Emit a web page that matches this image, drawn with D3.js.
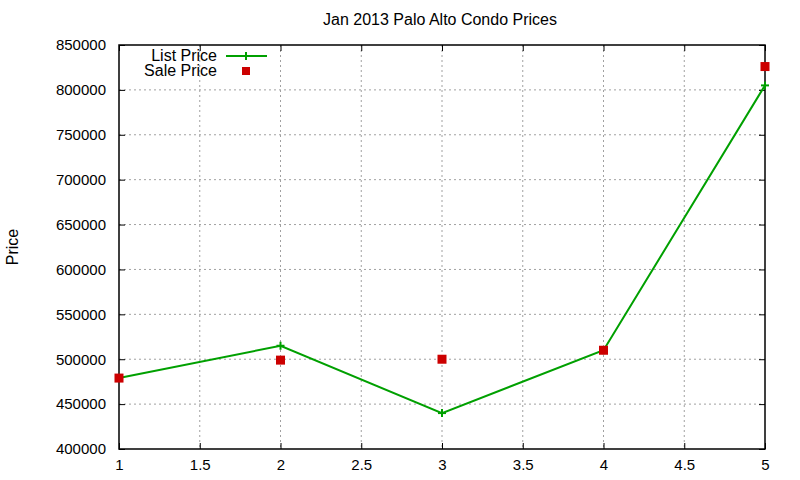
<!DOCTYPE html>
<html>
<head>
<meta charset="utf-8">
<script src="https://d3js.org/d3.v7.min.js"></script>
<style>
  body { margin: 0; background: #fff; }
  text { font-family: "Liberation Sans", Arial, sans-serif; fill: #000; }
  .grid line { stroke: #a0a0a0; stroke-dasharray: 2 3; stroke-width: 1; }
</style>
</head>
<body>
<div id="chart"></div>
<script>
// data
const points = [1, 2, 3, 4, 5];
const listPrice = [479000, 515000, 440000, 510000, 805000];
const salePrice = [479000, 499000, 500000, 510000, 826000];
const xTicks = [1, 1.5, 2, 2.5, 3, 3.5, 4, 4.5, 5];
const yTicks = [400000, 450000, 500000, 550000, 600000, 650000, 700000, 750000, 800000, 850000];

const W = 800, H = 480;
const margin = { top: 45, right: 35, bottom: 31, left: 119 };
const width = W - margin.left - margin.right,
      height = H - margin.top - margin.bottom;

const svg = d3.select("#chart").append("svg")
    .attr("width", W).attr("height", H);

const g = svg.append("g")
    .attr("transform", `translate(${margin.left},${margin.top})`);

const x = d3.scaleLinear().domain([1, 5]).range([0, width]);
const y = d3.scaleLinear().domain([400000, 850000]).range([height, 0]);

// grid
g.append("g").attr("class", "grid")
  .selectAll("line.v").data(xTicks.slice(1, -1)).join("line")
    .attr("x1", d => x(d)).attr("x2", d => x(d))
    .attr("y1", 0).attr("y2", height);
g.append("g").attr("class", "grid")
  .selectAll("line.h").data(yTicks.slice(1, -1)).join("line")
    .attr("y1", d => y(d)).attr("y2", d => y(d))
    .attr("x1", 0).attr("x2", width);

// axes, ticks pointing inward like gnuplot
const tick = 6;
const xb = g.append("g").attr("transform", `translate(0,${height})`)
  .call(d3.axisBottom(x).tickValues(xTicks).tickSize(-tick).tickPadding(tick + 4).tickFormat(d3.format("")));
const xt = g.append("g")
  .call(d3.axisTop(x).tickValues(xTicks).tickSize(-tick).tickFormat(""));
const yl = g.append("g")
  .call(d3.axisLeft(y).tickValues(yTicks).tickSize(-tick).tickPadding(tick + 7).tickFormat(d3.format("d")));
const yr = g.append("g").attr("transform", `translate(${width},0)`)
  .call(d3.axisRight(y).tickValues(yTicks).tickSize(-tick).tickFormat(""));

[xb, xt, yl, yr].forEach(a => {
  a.select(".domain").remove();
  a.selectAll("line").attr("stroke", "#000");
  a.selectAll("text").style("font-size", "15px").attr("fill", "#000");
});

g.append("rect")
  .attr("width", width).attr("height", height)
  .attr("fill", "none").attr("stroke", "#000").attr("stroke-width", 1.5);

// list price line
const green = "#00a000", red = "#cc0000";
const lineData = points.map((p, i) => ({ x: p, v: listPrice[i] }));
g.append("path").datum(lineData)
  .attr("fill", "none").attr("stroke", green).attr("stroke-width", 2)
  .attr("d", d3.line().x(d => x(d.x)).y(d => y(d.v)));

g.selectAll("g.plus").data(lineData).join("g")
  .attr("transform", d => `translate(${x(d.x)},${y(d.v)})`)
  .each(function () {
    const s = d3.select(this);
    s.append("line").attr("x1", -4).attr("x2", 4).attr("stroke", green).attr("stroke-width", 2);
    s.append("line").attr("y1", -4).attr("y2", 4).attr("stroke", green).attr("stroke-width", 2);
  });

// sale price squares
const sq = 9;
g.selectAll("rect.sale").data(points.map((p, i) => ({ x: p, v: salePrice[i] }))).join("rect")
  .attr("class", "sale")
  .attr("x", d => x(d.x) - sq / 2).attr("y", d => y(d.v) - sq / 2)
  .attr("width", sq).attr("height", sq).attr("fill", red);

// title and axis label
svg.append("text")
  .attr("x", margin.left + width / 2 - 2).attr("y", 25)
  .attr("text-anchor", "middle").style("font-size", "16px")
  .text("Jan 2013 Palo Alto Condo Prices");

svg.append("text")
  .attr("transform", `translate(18,${margin.top + height / 2}) rotate(-90)`)
  .attr("text-anchor", "middle").style("font-size", "16px")
  .text("Price");

// legend
const leg = svg.append("g").attr("transform", "translate(217,56)");
leg.append("text").attr("x", 0).attr("y", 5).attr("text-anchor", "end")
  .style("font-size", "16px").text("List Price");
leg.append("line").attr("x1", 9).attr("x2", 50).attr("y1", 0).attr("y2", 0)
  .attr("stroke", green).attr("stroke-width", 2);
leg.append("line").attr("x1", 29).attr("x2", 29).attr("y1", -4).attr("y2", 4)
  .attr("stroke", green).attr("stroke-width", 2);
leg.append("text").attr("x", 0).attr("y", 20).attr("text-anchor", "end")
  .style("font-size", "16px").text("Sale Price");
leg.append("rect").attr("x", 29 - 4).attr("y", 15 - 4).attr("width", 8).attr("height", 8)
  .attr("fill", red);
</script>
</body>
</html>
